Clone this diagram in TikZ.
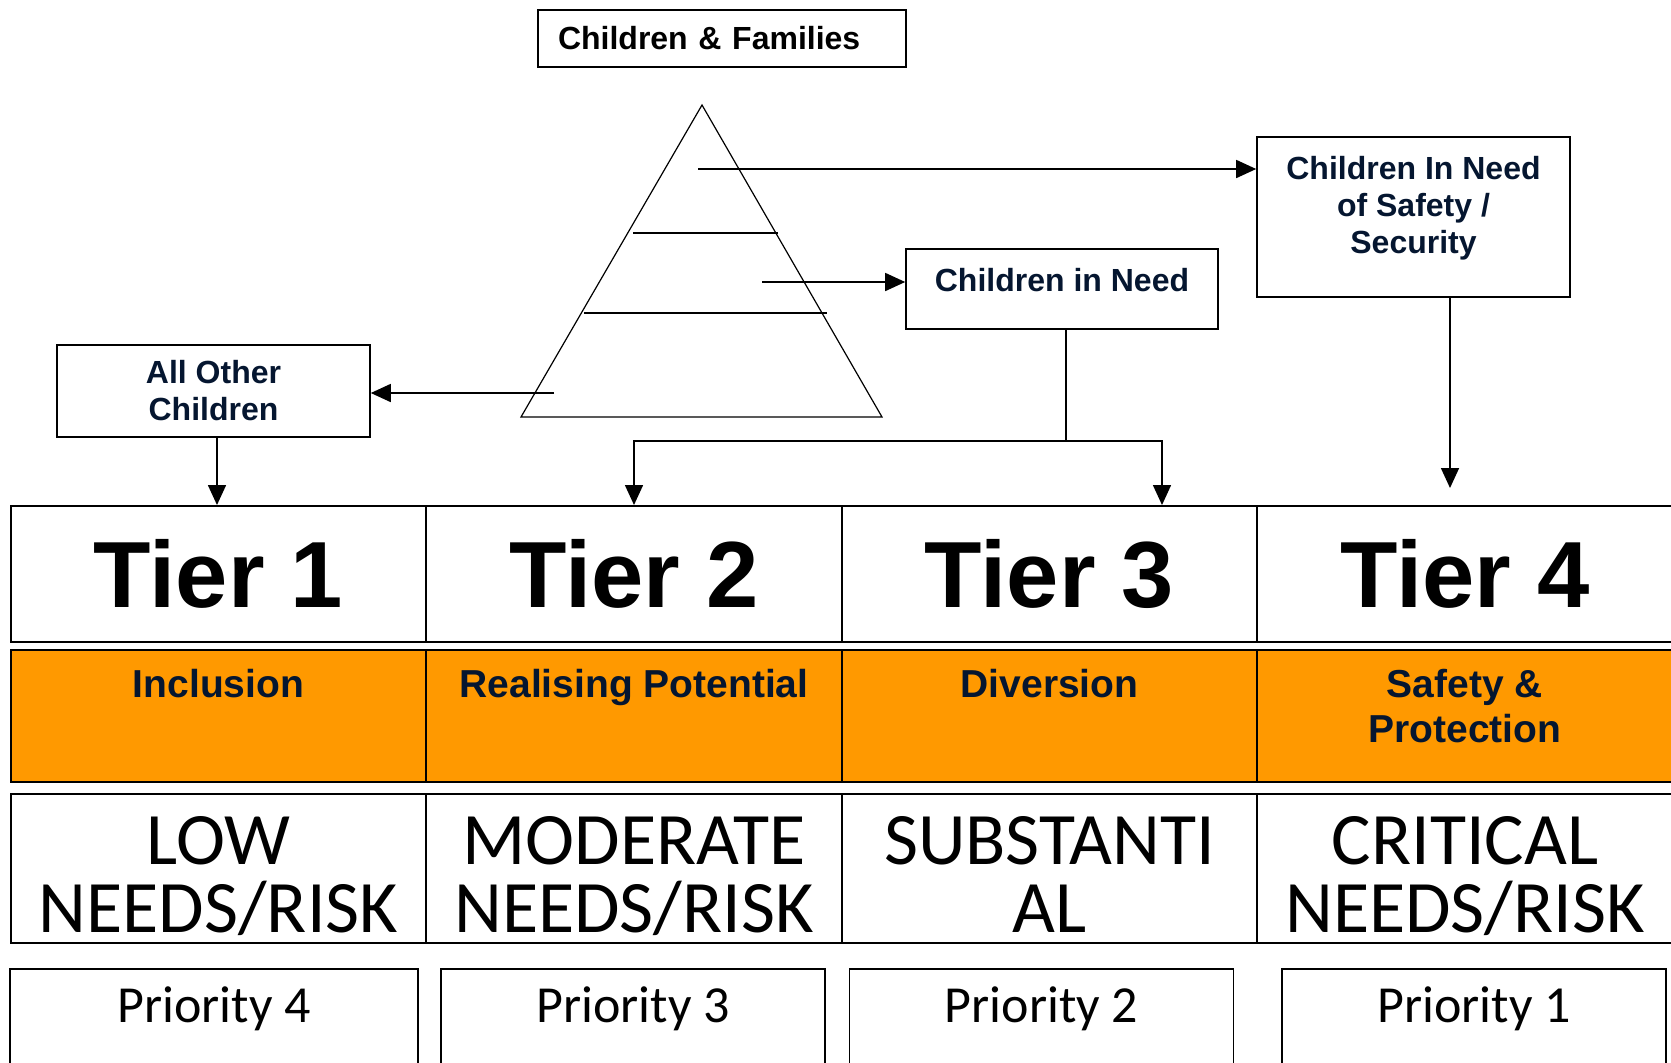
\documentclass[tikz,border=0pt]{standalone}
\usepackage{fontspec}
\setmainfont{Liberation Sans}
\newfontfamily\handfont{Carlito}
\usetikzlibrary{arrows.meta,positioning}

\definecolor{navy}{RGB}{5,22,48}
\definecolor{tierorange}{RGB}{255,153,0}

\tikzset{
  topbox/.style={draw, line width=0.8pt, inner sep=0pt, align=center, text=navy,
    font=\bfseries\fontsize{16}{18.5}\selectfont},
  cell/.style={draw, line width=1pt, inner sep=0pt, minimum width=207.75pt},
  tiercell/.style={cell, minimum height=68pt, font=\bfseries\fontsize{47}{50}\selectfont},
  aimcell/.style={cell, fill=tierorange, minimum height=66pt},
  needcell/.style={cell, minimum height=74.5pt},
  prioritybox/.style={draw, line width=0.8pt, inner sep=0pt, minimum height=60.5pt},
  aimtext/.style={anchor=base, align=center, text=navy, inner sep=0pt,
    font=\bfseries\fontsize{19.5}{22.5}\selectfont},
  needtext/.style={anchor=base, align=center, inner sep=0pt,
    font=\handfont\fontsize{37}{34}\selectfont},
  prioritytext/.style={anchor=base, inner sep=0pt, font=\handfont\fontsize{26}{30}\selectfont},
  arr/.style={line width=0.8pt, -{Triangle[length=10pt,width=9pt]}},
  pyramid/.style={line width=0.6pt}
}

\begin{document}
\begin{tikzpicture}[x=0.5pt, y=-0.5pt]
  \clip (0,0) rectangle (1671,1062);

  % boxes above the table
  \node[topbox, text=black, text width=164pt, align=left, inner xsep=10pt,
    minimum height=28.5pt] (families) at (722,38.5) {Children \& Families};
  \node[topbox, minimum width=156.5pt, minimum height=46pt] (others) at (213.5,391) {All Other\\Children};
  \node[topbox, minimum width=156pt, minimum height=40pt,
    text height=11pt, text depth=9pt] (inneed) at (1062,289) {Children in Need};
  \node[topbox, minimum width=156.5pt, minimum height=80pt, text depth=12pt] (safety) at (1413.5,217)
    {Children In Need\\of Safety /\\Security};

  % pyramid
  \coordinate (apex) at (702,105);
  \coordinate (baseL) at (521,417);
  \coordinate (baseR) at (882,417);
  \draw[pyramid] (apex) -- (baseR) -- (baseL) -- cycle;
  \draw[pyramid] (633,233) -- (778,233);
  \draw[pyramid] (584,313) -- (827,313);

  \coordinate (topband) at (698,169);
  \coordinate (midband) at (762,282);
  \coordinate (lowband) at (554,393);
  \draw[arr] (topband) -- (topband -| safety.west);
  \draw[arr] (midband) -- (midband -| inneed.west);
  \draw[arr] (lowband) -- (lowband -| others.east);

  % table
  \foreach \n/\x/\t in {1/218.5/Tier 1, 2/634/Tier 2, 3/1049.5/Tier 3, 4/1465/Tier 4}
    \node[tiercell] (tier\n) at (\x,574) {\t};

  \foreach \n/\x in {1/218.5, 2/634, 3/1049.5, 4/1465}{
    \node[aimcell] (aim\n) at (\x,716) {};
    \node[needcell] (need\n) at (\x,868.5) {};
  }

  \foreach \n/\x/\y/\t in {1/218.5/697/Inclusion, 2/634/697/Realising Potential,
      3/1049.5/697/Diversion, 4/1465/742/{Safety \&\\Protection}}
    \node[aimtext] (aimlabel\n) at (\x,\y) {\t};

  \foreach \n/\x/\t in {1/218.5/{LOW\\NEEDS/RISK}, 2/634/{MODERATE\\NEEDS/RISK},
      3/1049.5/{SUBSTANTI\\AL}, 4/1465/{CRITICAL\\NEEDS/RISK}}
    \node[needtext] (needlabel\n) at (\x,932) {\t};

  \foreach \n/\x/\w/\t in {1/214/204pt/Priority 4, 2/633/192pt/Priority 3,
      3/1041.5/192pt/Priority 2, 4/1474/192pt/Priority 1}{
    \node[prioritybox, minimum width=\w] (prio\n) at (\x,1029.5) {};
    \node[prioritytext] (priolabel\n) at (\x,1022) {\t};
  }

  % connectors into the table
  \coordinate (tierone) at (217,505);
  \draw[arr] (tierone |- others.south) -- (tierone);
  \coordinate (split) at (1066,441);
  \draw[line width=0.8pt] (split |- inneed.south) -- (split);
  \draw[arr] (split) -| (tier2.north);
  \coordinate (tierthree) at (1162,505);
  \draw[arr] (split) -| (tierthree);
  \coordinate (tierfour) at (1450,488);
  \draw[arr] (tierfour |- safety.south) -- (tierfour);
\end{tikzpicture}
\end{document}
